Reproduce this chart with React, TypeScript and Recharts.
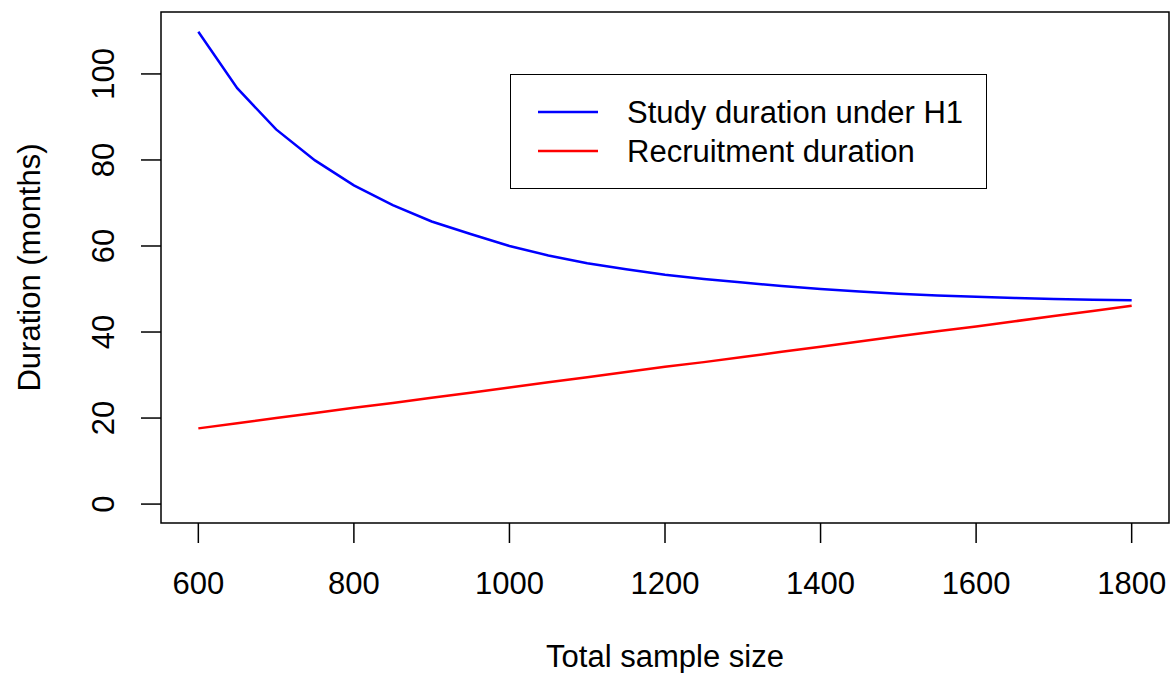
import {
  Legend,
  Line,
  LineChart,
  ReferenceArea,
  XAxis,
  YAxis,
} from 'recharts';

const sampleSizes = [
  600, 650, 700, 750, 800, 850, 900, 950, 1000, 1050, 1100, 1150, 1200,
  1250, 1300, 1350, 1400, 1450, 1500, 1550, 1600, 1650, 1700, 1750, 1800,
];
const studyDuration = [
  109.8, 96.7, 87.1, 79.9, 74.1, 69.5, 65.7, 62.8, 60.0, 57.8, 56.0, 54.6, 53.3,
  52.3, 51.5, 50.7, 50.0, 49.4, 48.9, 48.5, 48.2, 47.9, 47.7, 47.5, 47.4,
];
const recruitmentDuration = [
  17.6, 18.8, 20.0, 21.2, 22.4, 23.5, 24.7, 25.9, 27.1, 28.3, 29.5, 30.7, 31.9,
  33.0, 34.2, 35.4, 36.6, 37.8, 39.0, 40.2, 41.3, 42.5, 43.7, 44.9, 46.1,
];
const xTicks = [600, 800, 1000, 1200, 1400, 1600, 1800];
const yTicks = [0, 20, 40, 60, 80, 100];
const seriesLabels = ['Study duration under H1', 'Recruitment duration'];

const rows = sampleSizes.map((n, i) => ({
  n,
  study: studyDuration[i],
  recruit: recruitmentDuration[i],
}));

const font = '"Liberation Sans", Arial, sans-serif';
const fontSize = 31;
const palette = { study: '#0000ff', recruit: '#ff0000', ink: '#000000' };

const YTick = ({ y, payload }: { y: number; payload: { value: number } }) => (
  <text
    x={103.5}
    y={y}
    dy="0.35em"
    textAnchor="middle"
    transform={`rotate(-90, 103.5, ${y})`}
    fill={palette.ink}
    fontSize={fontSize}
    fontFamily={font}
  >
    {payload.value}
  </text>
);

function BoxLegend() {
  const colors = [palette.study, palette.recruit];
  return (
    <div
      style={{
        width: 477,
        height: 115,
        border: '1.5px solid #000',
        boxSizing: 'border-box',
        background: '#fff',
      }}
    >
      <svg width={475} height={113} style={{ display: 'block' }}>
        {seriesLabels.map((label, i) => {
          const y = 37 + i * 39;
          return (
            <g key={label}>
              <line x1={27} x2={87} y1={y} y2={y} stroke={colors[i]} strokeWidth={2.5} />
              <text
                x={116}
                y={y}
                dy="0.35em"
                fill={palette.ink}
                fontSize={fontSize}
                fontFamily={font}
              >
                {label}
              </text>
            </g>
          );
        })}
      </svg>
    </div>
  );
}

export default function App() {
  return (
    <div>
      <style>{'body{margin:0;overflow:hidden;background:#fff}'}</style>
      <LineChart
        width={1171}
        height={673}
        data={rows}
        margin={{ top: 12, right: 2, left: 0, bottom: 0 }}
        style={{ fontFamily: font }}
      >
        <XAxis
          dataKey="n"
          type="number"
          domain={[552, 1848]}
          allowDataOverflow
          ticks={xTicks}
          height={150}
          axisLine={false}
          tickSize={20}
          tickMargin={29}
          tickLine={{ stroke: palette.ink, strokeWidth: 1.5 }}
          tick={{ fill: palette.ink, fontSize, fontFamily: font }}
          label={{
            content: ({ viewBox }: any) => (
              <text
                x={viewBox.x + viewBox.width / 2}
                y={viewBox.y + 143.5}
                textAnchor="middle"
                fill={palette.ink}
                fontSize={fontSize}
                fontFamily={font}
              >
                Total sample size
              </text>
            ),
          }}
        />
        <YAxis
          type="number"
          domain={[-4.4, 114.4]}
          allowDataOverflow
          ticks={yTicks}
          width={161}
          axisLine={false}
          tickSize={20}
          tickLine={{ stroke: palette.ink, strokeWidth: 1.5 }}
          tick={(props: any) => <YTick {...props} />}
          label={{
            content: ({ viewBox }: any) => {
              const cy = viewBox.y + viewBox.height / 2;
              return (
                <text
                  x={29}
                  y={cy}
                  dy="0.35em"
                  textAnchor="middle"
                  transform={`rotate(-90, 29, ${cy})`}
                  fill={palette.ink}
                  fontSize={fontSize}
                  fontFamily={font}
                >
                  Duration (months)
                </text>
              );
            },
          }}
        />
        <ReferenceArea
          x1={552}
          x2={1848}
          y1={-4.4}
          y2={114.4}
          fill="none"
          stroke={palette.ink}
          strokeWidth={1.5}
          ifOverflow="visible"
        />
        <Line
          type="linear"
          dataKey="study"
          stroke={palette.study}
          strokeWidth={2.5}
          dot={false}
          activeDot={false}
          isAnimationActive={false}
        />
        <Line
          type="linear"
          dataKey="recruit"
          stroke={palette.recruit}
          strokeWidth={2.5}
          dot={false}
          activeDot={false}
          isAnimationActive={false}
        />
        <Legend
          layout="vertical"
          align="center"
          verticalAlign="middle"
          wrapperStyle={{ left: 510, top: 74, width: 477 }}
          content={() => <BoxLegend />}
        />
      </LineChart>
    </div>
  );
}
